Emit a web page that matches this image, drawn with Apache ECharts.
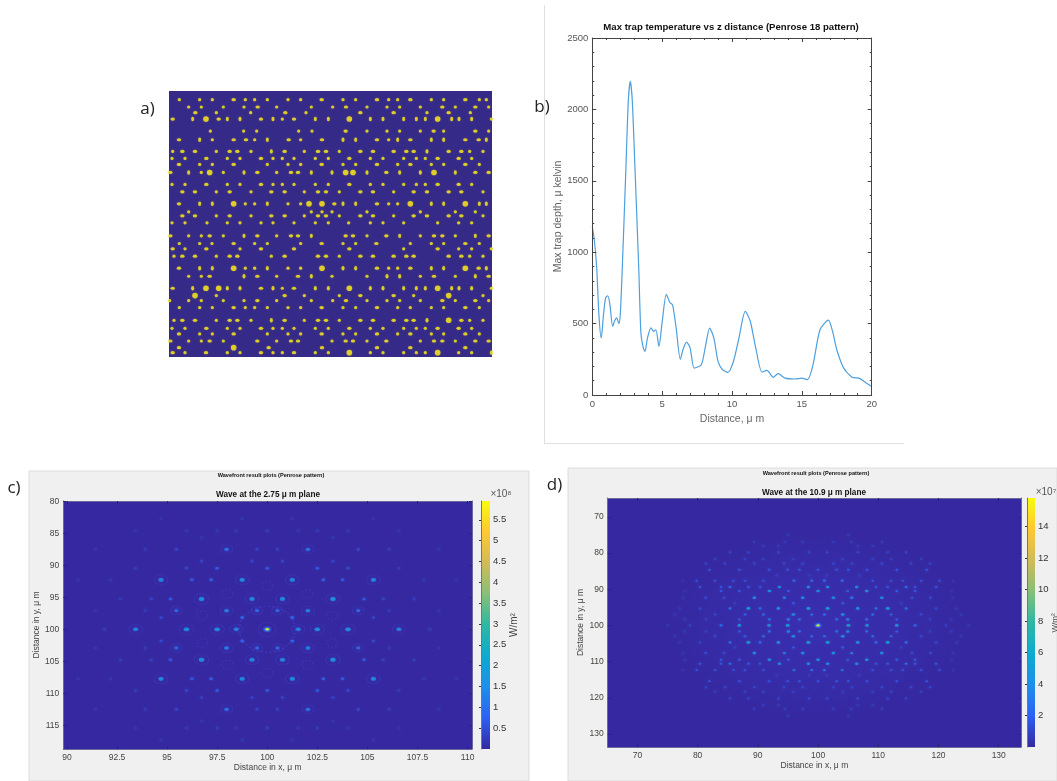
<!DOCTYPE html>
<html><head><meta charset="utf-8">
<style>html,body{margin:0;padding:0;background:#fff}#c{width:1057px;height:781px}</style>
<script src="https://cdn.jsdelivr.net/npm/echarts@6/dist/echarts.min.js"></script>
</head><body><div id="c"></div>
<script>
// ---- panel a: spot positions, [row, [columns]]
var aSmall=[[44,[147,208,246,345,373,411,473,511,638,676,775,802,903,940,1047,1068]],[66,[175,213,279,341,439,543,607,710,770,808,870,975,1075]],[83,[258,361,527,890,1020]],[102,[456,1083]],[138,[240,340,379,505,545,710,770,808,870,940,1075]],[164,[246,373,511,775]],[199,[127,258,362,522,627,1018,1058]],[220,[125,164,291,329,428,456,491,555,594,720,758,820,858,885,1024]],[238,[208,246,411,473,511,638,676,802,903,940,1047]],[262,[213,279,439]],[298,[125,164,291,329,428,456,491,555,594,720,758,820,858,885,1024]],[320,[258,362,522,627,790,1058]],[356,[345,373,473,511,775,802]],[380,[175,543,575,605,710,870,975,1035]],[392,[258,362,522,627,790,1058]],[413,[125,164,230,291,329,392,428,491,555,594,655,720,758,820,922,985,1024]],[452,[175,213,279,439,710,870,975]],[475,[147,208,245,373,411,511,638,676,840,903,940,1047]],[491,[164,329,820,985,1024,1083]],[513,[131,258,423,627,1018,1058]],[549,[345,373,473,511,775,802]],[573,[175,213,439,605,710,870,975]],[609,[456,1083]],[631,[258,522,627,850,1058]],[646,[118,175,213,279,341,439,543,607,710,770,808,870,975,1075]],[667,[147,208,246,345,373,411,473,511,638,676,802,840,903,940,1047]],[705,[131,258,362,522,627,1018,1058]],[729,[125,164,291,329,428,456,491,555,594,720,758,820,858,885,1024]],[746,[208,246,411,473,511,638,676,802,903,940,1047]],[767,[175,213,279,439,605,710,870,975]],[802,[164,291,329,428,456,555,594,720,758,820,858,885,985,1024]]];
var aTall=[[102,[187,291,329,428,555,594,720,758,820,858,885,964,986,1024]],[164,[208,411,638,676,802,903,940,1068]],[199,[423,890]],[262,[175,341,543,605,710,808,870,975]],[356,[208,246,411,638,676,903,940,1047,1068]],[452,[341,543,808,1035]],[549,[208,246,411,638,676,903,940,1068]],[573,[341,543,770,808,1035]],[609,[187,291,329,428,555,594,720,758,820,858,885,964,986,1024]],[705,[423,890]],[802,[1083]]];
var aWide=[[44,[310,574,740,840,1005]],[66,[382,647,936,1035]],[83,[195,465,690,790,955]],[102,[127,265,392,491]],[138,[646,910,1035]],[164,[146,347,475,575,740,840,1005,310,1045]],[199,[156,194,463,690,728,828,955,298,321,563,587,790,850,993]],[220,[228,392,657,922,985]],[238,[146,310,574,740,840,1005]],[262,[120,381,482,503,768,1035,1075]],[298,[228,392,657,922,985]],[320,[156,194,298,423,463,563,587,690,728,850,890,955,993]],[356,[146,612,740]],[392,[156,194,298,423,463,563,587,690,728,850,890,955,993]],[452,[120,238,381,482,503,646,668,768,911,936,1075]],[475,[310,574,738,1005]],[491,[127,228,392,491,657,922]],[513,[156,194,298,321,463,563,587,690,728,790,828,850,955,993]],[549,[146,740,840,1045]],[573,[238,381,503,911,1075]],[609,[127,392,491]],[631,[463,690,790]],[646,[381,647,936,1035]],[667,[310,574,740,1005]],[705,[156,194,298,321,463,563,587,690,728,790,828,850,993]],[729,[228,392,657,922,985]],[746,[146,310,574,740,840,1005]],[767,[120,238,381,482,503,646,668,768,911,936,1035,1075]],[787,[146,415,575,740,840,1005]],[802,[127,227,392,491]]];
var aBig=[[102,[227,657,922]],[262,[238,646,668,911]],[356,[310,536,575,840,1005]],[549,[310,575,1005]],[609,[227,265,657,922]],[631,[194,955]],[705,[955]],[787,[310]],[802,[657,922]]];

// ---- panel b
var bDistance=[0,0.15,0.31,0.48,0.64,0.8,0.95,1.1,1.25,1.46,1.6,1.75,1.9,2,2.15,2.41,2.58,2.72,2.86,3.05,3.32,3.48,3.65,3.77,3.95,4.2,4.38,4.55,4.77,5,5.3,5.55,5.75,6,6.3,6.5,6.75,7,7.3,7.8,8.1,8.4,8.7,9,9.3,9.7,10.1,10.5,10.95,11.3,11.7,12.15,12.5,12.95,13.3,13.8,14.5,15,15.4,15.8,16.3,16.9,17.2,17.5,18,18.6,19.1,19.6,20];
var bDepth=[1180,1080,900,550,399,560,680,695,640,480,520,540,500,560,900,1600,2065,2197,2065,1600,900,434,330,305,400,470,445,457,340,510,705,648,630,470,250,320,370,330,188,212,340,468,400,235,180,158,235,400,585,520,330,160,172,124,150,118,112,118,107,212,457,525,445,317,188,124,118,84,60];
var bTicksX=[0,5,10,15,20], bTicksY=[0,500,1000,1500,2000,2500];

// ---- panel c: [rows (y), value x10^8, columns (x)]
var cRows=[
[[100],5.9,[100]],[[100],1.8,[95.97,104.03,97.5,102.5]],[[100],1.5,[93.43,106.57,98.45,101.55]],[[100],.3,[91.88,108.12]],
[[92.27,107.73],1.7,[94.7,105.3,98.75,101.25]],[[92.27,107.73],.8,[97.2,102.8]],[[92.27,107.73],.7,[96.24,103.76]],[[92.27,107.73],.2,[92.18,107.82]],[[92.27,107.73],.12,[90.56,109.44]],
[[95.25,104.75],1.9,[96.72,103.28]],[[95.25,104.75],1.7,[99.24,100.76]],[[95.25,104.75],.7,[95.17,104.83]],[[95.25,104.75],.4,[94.21,105.79]],[[95.25,104.75],.3,[92.67,107.33]],
[[97.08,102.92],1.4,[97.97,102.03]],[[97.08,102.92],1,[99.49,100.51,95.46,104.54]],[[97.08,102.92],.25,[93.91,106.09]],[[97.08,102.92],.15,[91.43,108.57]],
[[98.17,101.83],.9,[98.75,101.25]],[[98.17,101.83],.5,[94.7,105.3]],
[[87.5,112.5],1.2,[97.97,102.03]],[[87.5,112.5],.5,[95.46,104.54]],[[87.5,112.5],.4,[99.49,100.51]],[[87.5,112.5],.25,[93.91,106.09]],[[87.5,112.5],.15,[91.43,108.57]],
[[89.35,110.65],.4,[96.72,103.28,99.24,100.76]],
[[90.45,109.55],.7,[100,97.5,102.5]],[[90.45,109.55],.5,[95.97,104.03]],[[90.45,109.55],.3,[93.43,106.57]],
[[84.6,115.4],.3,[100]],[[84.6,115.4],.25,[97.5,102.5]],[[84.6,115.4],.2,[95.97,104.03,98.45,101.55]],[[84.6,115.4],.12,[93.43,106.57]],
[[85.65,114.35],.15,[96.72,103.28]],
[[82.7,117.3],.15,[98.75,101.25]],[[82.7,117.3],.12,[94.7,105.3]]];
var cSmallRings=[[100,93.18],[98,94.48],[96.75,97.86],[96.75,102.14],[98,105.52],[100,106.82],[102,94.48],[103.25,97.86],[103.25,102.14],[102,105.52]];
var cTicksX=[90,92.5,95,97.5,100,102.5,105,107.5,110], cTicksY=[80,85,90,95,100,105,110,115], cBarTicks=[.5,1,1.5,2,2.5,3,3.5,4,4.5,5,5.5];

// ---- panel d: [rows (y), value x10^7, columns (x)]
var dRows=[
[[75.05,124.95],.8,[94.96,105.04]],
[[76.9,123.1],.8,[97.45,102.55,94.5,105.5,89.37,110.63]],
[[78,122],.8,[93.41,106.59,90.92,109.08]],
[[79.8,120.2],1.2,[98.5,101.5,93.41,106.59,88.43,111.57,85.38,114.62]],
[[81.7,118.3],1,[95.9,104.1,90.92,109.08,87.87,112.13,82.89,117.11]],
[[82.9,117.1],1.2,[97.45,102.55,94.35,105.65,89.42,110.58,84.55,115.45,81.4,118.6]],
[[84.6,115.4],1.8,[100,96.9,103.1,94.96,105.04,91.86,108.14,86.93,113.07,81.95,118.05]],
[[86.2,113.8],.8,[98.56,101.44,93.13,106.87]],
[[87.66,112.34],3,[98.95,101.05,96,104]],[[87.66,112.34],1.6,[90.92,109.08,87.87,112.13,85.94,114.06,82.89,117.11,79.84,120.16]],[[87.66,112.34],.5,[77.57,122.43]],
[[89.4,110.6],4.5,[98.4,101.6,93.58,106.42]],[[89.4,110.6],3,[85.38,114.62]],[[89.4,110.6],1.8,[90.37,109.63,88.43,111.57,83.89,116.11,80.4,119.6]],
[[90.5,109.5],5,[100,91.92,108.08]],[[90.5,109.5],2,[95.07,104.93,86.93,113.07,83.89,116.11]],[[90.5,109.5],.5,[77.85,122.15]],
[[92.36,107.64],5,[97.45,102.55,89.42,110.58]],[[92.36,107.64],3.5,[94.4,105.6]],[[92.36,107.64],1.5,[84.39,115.61,81.34,118.66]],[[92.36,107.64],.5,[77.57,122.43]],
[[93.9,106.1],2,[95.9,104.1]],[[93.9,106.1],1,[86.21,113.79]],
[[95.3,104.7],6,[98.4,101.6,88.43,111.57]],[[95.3,104.7],5,[93.41,106.59]],[[95.3,104.7],3,[90.37,109.63,85.38,114.62]],[[95.3,104.7],1.3,[80.4,119.6]],[[95.3,104.7],.6,[77,123]],
[[97,103],5,[95.9,104.1]],[[97,103],3,[98.95,101.05,90.92,109.08]],[[97,103],2.5,[87.87,112.13]],[[97,103],1.3,[82.89,117.11]],[[97,103],.6,[76.2,123.8]],
[[98.34,101.66],4,[95.07,104.93]],[[98.34,101.66],3,[96.9,103.1,91.92,108.08]],[[98.34,101.66],2,[86.93,113.07]],[[98.34,101.66],1,[81.4,118.6]],[[98.34,101.66],.6,[77.85,122.15]],
[[100],15.5,[100]],[[100],6,[94.96,105.04]],[[100],5,[91.86,108.14,86.93,113.07]],[[100],3,[83.89,116.11]],[[100],1,[78.74,121.26]],[[100],.5,[75,125]]];
var dTicks=[70,80,90,100,110,120,130], dBarTicks=[2,4,6,8,10,12,14];

var parula=['#3528a0','#2c60f5','#1d8fea','#0cabd0','#2eb7a4','#87bf77','#d1bb59','#fec832','#f9fb0e'];
var FONT='"Liberation Sans",Arial,sans-serif';
var xAxes=[],yAxes=[],grids=[];
function plain(v){return String(v);}
function expand(rows){var o=[];rows.forEach(function(r){r[0].forEach(function(y){r[2].forEach(function(x){o.push([x,y,r[1]]);});});});return o;}
function expandA(rows){var o=[];rows.forEach(function(r){r[1].forEach(function(x){o.push([x,r[0]]);});});return o;}
function addGrid(g){grids.push(g);return grids.length-1;}
function panel(gi,o){
  var tc=o.tickColor||'#444';
  function ax(kind,pos,main){
    var t=kind==='x'?o.xTicks:o.yTicks;
    var a={type:'value',gridIndex:gi,position:pos,scale:true,z:6,min:kind==='x'?o.xMin:o.yMin,max:kind==='x'?o.xMax:o.yMax,
      inverse:kind==='y'&&!!o.yInverse,splitLine:{show:false},
      axisLine:{show:true,onZero:false,lineStyle:{color:o.lineColor||'#555',width:1}},
      axisTick:{show:true,inside:true,length:o.tickLen||3,lineStyle:{color:tc,width:1},customValues:t},
      axisLabel:{show:main,customValues:t,formatter:plain,color:o.labelColor||'#444',fontFamily:FONT,fontSize:o.fontSize||9,margin:o.margin||5,hideOverlap:false,showMinLabel:true,showMaxLabel:true}};
    if(o.minor){a.minorTick={show:true,splitNumber:5,length:2,lineStyle:{color:tc}};a.interval=kind==='x'?5:500;delete a.axisTick.customValues;delete a.axisLabel.customValues;}
    if(main&&kind==='x'&&o.xName){a.name=o.xName;a.nameLocation='middle';a.nameGap=o.xGap;a.nameTextStyle={color:o.nameColor||'#444',fontFamily:FONT,fontSize:o.nameSize||8.5};}
    if(main&&kind==='y'&&o.yName){a.name=o.yName;a.nameLocation='middle';a.nameGap=o.yGap;a.nameRotate=90;a.nameTextStyle={color:o.nameColor||'#444',fontFamily:FONT,fontSize:o.nameSize||8.5};}
    return a;
  }
  xAxes.push(ax('x','bottom',true));var xi=xAxes.length-1;
  xAxes.push(ax('x','top',false));
  yAxes.push(ax('y','left',true));var yi=yAxes.length-1;
  yAxes.push(ax('y','right',false));
  return {xi:xi,yi:yi};
}
function barAxes(gi,min,max,ticks,fs){
  xAxes.push({type:'value',gridIndex:gi,min:0,max:1,show:false});
  yAxes.push({type:'value',gridIndex:gi,position:'right',min:min,max:max,z:6,splitLine:{show:false},
    axisLine:{show:true,lineStyle:{color:'#777'}},
    axisTick:{show:true,inside:true,length:2,lineStyle:{color:'#333'},customValues:ticks},
    axisLabel:{show:true,formatter:plain,color:'#333',fontFamily:FONT,fontSize:fs,margin:3,customValues:ticks}});
}
var gA=addGrid({left:169,top:91,width:323,height:266,show:true,backgroundColor:'#352a87',borderWidth:0});
xAxes.push({type:'value',gridIndex:gA,min:116,max:1085,show:false});
yAxes.push({type:'value',gridIndex:gA,min:18,max:815,inverse:true,show:false});
var gB=addGrid({left:592.3,top:38,width:279.4,height:357});
var pB=panel(gB,{xMin:0,xMax:20,yMin:0,yMax:2500,xTicks:bTicksX,yTicks:bTicksY,minor:true,tickLen:4,lineColor:'#444',tickColor:'#444',labelColor:'#555',fontSize:9.5,margin:4,
  xName:'Distance, μ m',xGap:19,yName:'Max trap depth, μ kelvin',yGap:22,nameColor:'#666',nameSize:10.5});
var gC=addGrid({left:63.3,top:501,width:408.7,height:248,show:true,backgroundColor:parula[0],borderWidth:0});
var pC=panel(gC,{xMin:89.82,xMax:110.22,yMin:79.95,yMax:118.7,yInverse:true,xTicks:cTicksX,yTicks:cTicksY,lineColor:'#6a6a9a',tickColor:'#24247a',tickLen:3,fontSize:8.5,margin:4,
  xName:'Distance in x, μ m',xGap:14,yName:'Distance in y, μ m',yGap:15,nameSize:8.5});
var gCb=addGrid({left:481,top:501,width:9,height:248});barAxes(gCb,0,5.95,cBarTicks,9.5);
var gD=addGrid({left:607.7,top:498,width:413.3,height:249,show:true,backgroundColor:parula[0],borderWidth:0});
var pD=panel(gD,{xMin:65.07,xMax:133.7,yMin:64.8,yMax:133.6,yInverse:true,xTicks:dTicks,yTicks:dTicks,lineColor:'#6a6a9a',tickColor:'#24247a',tickLen:3,fontSize:8.5,margin:4,
  xName:'Distance in x, μ m',xGap:14,yName:'Distance in y, μ m',yGap:14,nameSize:8.5});
var gDb=addGrid({left:1027,top:498,width:8,height:249});barAxes(gDb,0,15.8,dBarTicks,9.5);

function aSeries(name,rows,size){return {type:'scatter',name:name,xAxisIndex:0,yAxisIndex:0,data:expandA(rows),symbolSize:size,silent:true,animation:false,
  itemStyle:{color:'#fbe81a',shadowBlur:1.5,shadowColor:'rgba(150,140,70,.8)'},z:3};}
var cData=expand(cRows),dData=expand(dRows);
var cHalo=cData.filter(function(p){return p[2]>=1;});
function radial(stops){return {type:'radial',x:.5,y:.5,r:.5,colorStops:stops};}
var series=[
 aSeries('a small',aSmall,3.2),aSeries('a tall',aTall,[3,4.4]),aSeries('a wide',aWide,[4.4,3.2]),aSeries('a big',aBig,5.6),
 {type:'line',name:'b',xAxisIndex:pB.xi,yAxisIndex:pB.yi,data:bDistance.map(function(x,i){return [x,bDepth[i]];}),showSymbol:false,smooth:.25,silent:true,animation:false,
  lineStyle:{color:'#4d9fdd',width:1.2}},
 {type:'scatter',name:'c halo',xAxisIndex:pC.xi,yAxisIndex:pC.yi,data:cHalo,silent:true,animation:false,z:2,
  symbolSize:function(v){return v[2]>3?[18,14]:[8+v[2]*3.5,6+v[2]*2.5];},itemStyle:{color:'rgba(0,0,0,0)',borderColor:'rgba(75,85,235,.3)',borderWidth:1}},
 {type:'scatter',name:'c ring',xAxisIndex:pC.xi,yAxisIndex:pC.yi,data:[[100,100]],silent:true,animation:false,z:2,symbolSize:[56,46],
  itemStyle:{color:'rgba(0,0,0,0)',borderColor:'rgba(80,85,235,.5)',borderWidth:1.5,borderType:[1.5,2.5]}},
 {type:'scatter',name:'c small rings',xAxisIndex:pC.xi,yAxisIndex:pC.yi,data:cSmallRings,silent:true,animation:false,z:2,symbolSize:[11,9],
  itemStyle:{color:'rgba(0,0,0,0)',borderColor:'rgba(80,85,235,.4)',borderWidth:1.2,borderType:[1.5,2]}},
 {type:'scatter',name:'c core',xAxisIndex:pC.xi,yAxisIndex:pC.yi,data:[[100,100]],silent:true,animation:false,z:2,symbolSize:[10,7],
  itemStyle:{color:radial([{offset:0,color:'#20b0d0'},{offset:.6,color:'#2a70f0'},{offset:1,color:'rgba(50,60,220,.2)'}])}},
 {type:'scatter',name:'d haze',xAxisIndex:pD.xi,yAxisIndex:pD.yi,data:[[100,100]],silent:true,animation:false,z:2,symbolSize:[300,190],
  itemStyle:{color:radial([{offset:0,color:'rgba(70,75,240,.25)'},{offset:.7,color:'rgba(70,75,240,.1)'},{offset:1,color:'rgba(70,75,240,0)'}])}},
 {type:'scatter',name:'d core',xAxisIndex:pD.xi,yAxisIndex:pD.yi,data:[[100,100]],silent:true,animation:false,z:2,symbolSize:[9,6.5],
  itemStyle:{color:radial([{offset:0,color:'#20b0d0'},{offset:.6,color:'#2a70f0'},{offset:1,color:'rgba(50,60,220,.2)'}])}},
 {type:'scatter',name:'c',xAxisIndex:pC.xi,yAxisIndex:pC.yi,data:cData,silent:true,animation:false,z:3,
  symbolSize:function(v){var w=v[2]>3?3.6:2.4+v[2]*1.6;return [w,w*.72];},itemStyle:{shadowBlur:2,shadowColor:'rgba(70,120,250,.7)'}},
 {type:'scatter',name:'d',xAxisIndex:pD.xi,yAxisIndex:pD.yi,data:dData,silent:true,animation:false,z:3,
  symbolSize:function(v){var w=v[2]>7?3.4:2.2+v[2]*.3;return [w,w*.72];},itemStyle:{shadowBlur:2,shadowColor:'rgba(70,120,250,.6)'}}
];
var idxC=series.length-2,idxD=series.length-1;
function txt(x,y,s,o){o=o||{};return {type:'text',x:x,y:y,rotation:o.rot||0,z:20,silent:true,
  style:{text:s,fill:o.color||'#111',font:(o.weight||'normal')+' '+(o.size||9)+'px '+(o.family||FONT),textAlign:o.align||'center',textVerticalAlign:'middle'}};}
function barGradient(){var s=[];parula.forEach(function(c,i){s.push({offset:1-i/(parula.length-1),color:c});});s.reverse();return new echarts.graphic.LinearGradient(0,0,0,1,s);}
var graphics=[
 {type:'rect',z:-5,silent:true,shape:{x:29,y:471,width:500,height:310},style:{fill:'#f0f0f0',stroke:'#dcdcdc'}},
 {type:'rect',z:-5,silent:true,shape:{x:568,y:468,width:489,height:313},style:{fill:'#f0f0f0',stroke:'#dcdcdc'}},
 {type:'rect',z:1,silent:true,shape:{x:481,y:501,width:9,height:248},style:{fill:barGradient()}},
 {type:'rect',z:1,silent:true,shape:{x:1027,y:498,width:8,height:249},style:{fill:barGradient()}},
 {type:'line',z:-5,silent:true,shape:{x1:544.5,y1:5,x2:544.5,y2:443},style:{stroke:'#e0e0e0',lineWidth:1}},
 {type:'line',z:-5,silent:true,shape:{x1:544,y1:443.5,x2:904,y2:443.5},style:{stroke:'#e0e0e0',lineWidth:1}},
 txt(147.5,109,'a)',{size:17,family:'"Open Sans",sans-serif',color:'#222'}),
 txt(542,107,'b)',{size:17,family:'"Open Sans",sans-serif',color:'#222'}),
 txt(14,488,'c)',{size:17,family:'"Open Sans",sans-serif',color:'#222'}),
 txt(554.5,485,'d)',{size:17,family:'"Open Sans",sans-serif',color:'#222'}),
 txt(731,27,'Max trap temperature vs z distance (Penrose 18 pattern)',{size:9.6,weight:'bold'}),
 txt(271,475,'Wavefront result plots (Penrose pattern)',{size:5.6,weight:'bold'}),
 txt(268,495,'Wave at the 2.75 μ m plane',{size:8.2,weight:'bold'}),
 txt(816,473,'Wavefront result plots (Penrose pattern)',{size:5.6,weight:'bold'}),
 txt(814,492.7,'Wave at the 10.9 μ m plane',{size:8.2,weight:'bold'}),
 txt(501,494,'×10⁸',{size:10,color:'#555'}),
 txt(514,625,'W/m²',{size:10,color:'#444',rot:Math.PI/2}),
 txt(1046,492,'×10⁷',{size:10,color:'#555'}),
 txt(1055,623,'W/m²',{size:8,color:'#444',rot:Math.PI/2})
];
var chart=echarts.init(document.getElementById('c'),null,{renderer:'canvas'});
chart.setOption({animation:false,backgroundColor:'#fff',grid:grids,xAxis:xAxes,yAxis:yAxes,series:series,graphic:{elements:graphics},tooltip:{show:false},
 visualMap:[
  {type:'continuous',show:false,seriesIndex:idxC,dimension:2,min:0,max:5.95,inRange:{color:parula}},
  {type:'continuous',show:false,seriesIndex:idxD,dimension:2,min:0,max:15.8,inRange:{color:parula}}
 ]});
</script></body></html>
